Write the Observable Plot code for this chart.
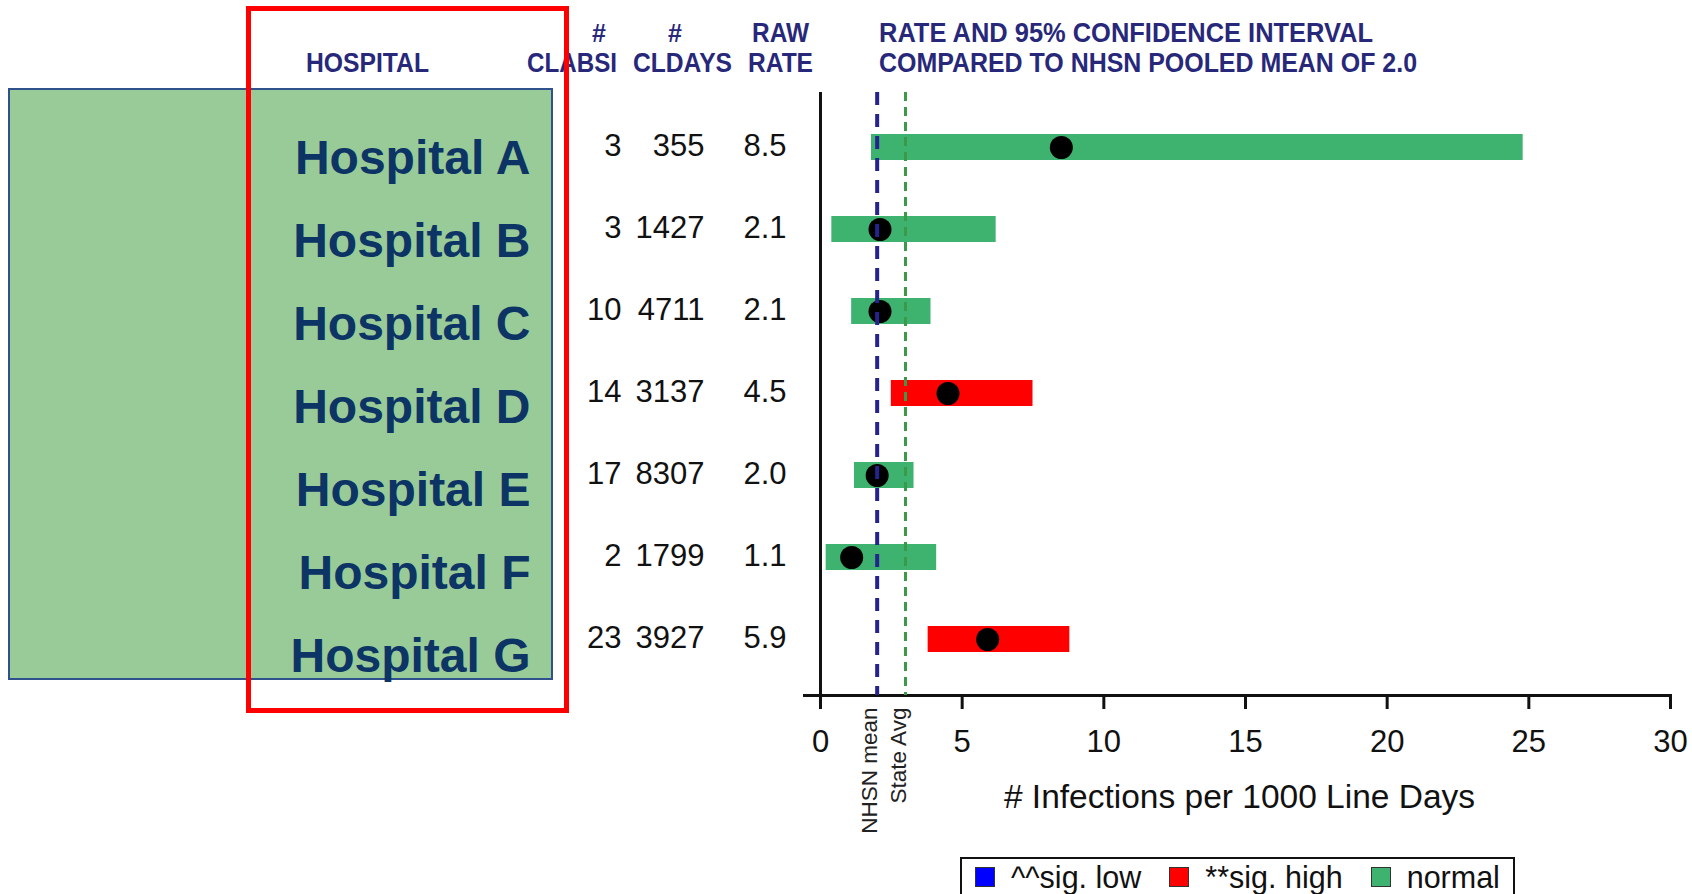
<!DOCTYPE html>
<html>
<head>
<meta charset="utf-8">
<script src="https://cdn.jsdelivr.net/npm/d3@7"></script>
<script src="https://cdn.jsdelivr.net/npm/@observablehq/plot@0.6"></script>
<style>
  html, body { margin: 0; padding: 0; background: #fff; overflow: hidden; }
  #wrap { position: relative; width: 1692px; height: 894px; font-family: "Liberation Sans", Arial, sans-serif; }
  #wrap > * { position: absolute; left: 0; top: 0; }
  #greenbox { left: 8px; top: 88px; width: 541px; height: 588px; background: #99cb98; border: 2px solid #2f528f; }
  #redbox { left: 246px; top: 6px; width: 313px; height: 697px; border: 5px solid #ff0000; pointer-events: none; }
  #legend { left: 960px; top: 857px; width: 555px; height: 50px; border: 2.5px solid #111; box-sizing: border-box;
            display: flex; align-items: flex-start; padding: 7px 0 0 13px; font-size: 30.5px; color: #111; }
  #legend .item { display: flex; align-items: center; margin-right: 28px; height: 22px; }
  #legend .sw { width: 20px; height: 20px; border: 1px solid #333; margin-right: 16px; box-sizing: border-box; }
  #legend .lab { line-height: 22px; white-space: nowrap; }
</style>
</head>
<body>
<div id="wrap">
  <div id="greenbox"></div>
</div>
<script>
// ---- data ----
const hospitals = ["Hospital A", "Hospital B", "Hospital C", "Hospital D", "Hospital E", "Hospital F", "Hospital G"];
const clabsi = [3, 3, 10, 14, 17, 2, 23];
const cldays = [355, 1427, 4711, 3137, 8307, 1799, 3927];
const rawRate = [8.5, 2.1, 2.1, 4.5, 2.0, 1.1, 5.9];
const ciLow = [1.8, 0.4, 1.1, 2.5, 1.2, 0.2, 3.8];
const ciHigh = [24.8, 6.2, 3.9, 7.5, 3.3, 4.1, 8.8];
const status = ["normal", "normal", "normal", "high", "normal", "normal", "high"];
const nhsnMean = 2.0;
const stateAvg = 3.0;
const refLabels = ["NHSN mean", "State Avg"];
const xTicks = [0, 5, 10, 15, 20, 25, 30];
const xLabel = "# Infections per 1000 Line Days";
const statusKeys = ["low", "high", "normal"];
const statusNames = ["^^sig. low", "**sig. high", "normal"];
const statusColors = ["#0000ff", "#ff0000", "#3eb370"];
const headerCols = ["HOSPITAL", "CLABSI", "CLDAYS", "RATE"];
const headerTops = ["#", "#", "RAW"];
const headerRight = ["RATE AND 95% CONFIDENCE INTERVAL", "COMPARED TO NHSN POOLED MEAN OF 2.0"];

const rows = hospitals.map((h, i) => ({
  hospital: h, clabsi: clabsi[i], cldays: cldays[i], rate: rawRate[i],
  lo: ciLow[i], hi: ciHigh[i], status: status[i]
}));

const wrap = document.getElementById("wrap");
const FONT = "Liberation Sans, Arial, sans-serif";

// ---- hospital labels in the pasted green box ----
const labelPlot = Plot.plot({
  width: 600, height: 720, margin: 0,
  style: {background: "transparent", overflow: "visible", fontFamily: FONT},
  x: {domain: [0, 1], axis: null},
  y: {type: "point", domain: hospitals, range: [155, 658], padding: 0, axis: null},
  marks: [
    Plot.text(hospitals, {y: d => d, frameAnchor: "right", dx: -70, textAnchor: "end",
      fontSize: 48, fontWeight: "bold", fill: "#0c3464", fontFamily: FONT})
  ]
});
wrap.appendChild(labelPlot);

// ---- main chart ----
const chart = Plot.plot({
  width: 1692, height: 894,
  marginLeft: 804, marginRight: 22, marginTop: 92, marginBottom: 199,
  style: {background: "transparent", overflow: "visible", fontFamily: FONT, color: "#111"},
  x: {domain: [0, 30], insetLeft: 16, axis: null},
  y: {type: "band", domain: hospitals, paddingInner: 0.68, paddingOuter: 0.5, axis: null},
  color: {domain: statusKeys, range: statusColors},
  marks: [
    Plot.frame({anchor: "bottom", stroke: "#111", strokeWidth: 3}),
    Plot.ruleX([0], {stroke: "#111", strokeWidth: 3}),
    Plot.barX(rows, {x1: "lo", x2: "hi", y: "hospital", fill: "status"}),
    Plot.dot(rows, {x: "rate", y: "hospital", r: 11.5, fill: "#000", stroke: "none"}),
    Plot.ruleX([nhsnMean], {stroke: "#24248c", strokeWidth: 4, strokeDasharray: "13,9"}),
    Plot.ruleX([stateAvg], {stroke: "#3a9a48", strokeWidth: 3, strokeDasharray: "9,6"}),
    Plot.axisX({ticks: xTicks, tickSize: 14, tickPadding: 20, fontSize: 31, strokeWidth: 3, stroke: "#111", label: null, tickFormat: d => String(d)}),
    Plot.text([nhsnMean, stateAvg], {x: d => d, text: (d, i) => refLabels[i], frameAnchor: "bottom", dy: 12,
      rotate: -90, textAnchor: "end", fontSize: 22.5, fill: "#222"}),
    Plot.text([xLabel], {frameAnchor: "bottom", dx: 2, dy: 112, fontSize: 33.5, fill: "#111", text: d => d}),
    Plot.text(rows, {y: "hospital", text: d => String(d.clabsi), frameAnchor: "left", dx: -183, dy: -1, textAnchor: "end", fontSize: 31, fill: "#111"}),
    Plot.text(rows, {y: "hospital", text: d => String(d.cldays), frameAnchor: "left", dx: -100, dy: -1, textAnchor: "end", fontSize: 31, fill: "#111"}),
    Plot.text(rows, {y: "hospital", text: d => d.rate.toFixed(1), frameAnchor: "left", dx: -18, dy: -1, textAnchor: "end", fontSize: 31, fill: "#111"})
  ]
});
wrap.appendChild(chart);

// ---- column headers (layout overlay) ----
const hdr = d3.create("svg").attr("width", 1692).attr("height", 100)
  .style("position", "absolute").style("left", "0px").style("top", "0px")
  .attr("font-family", FONT).attr("font-weight", "bold").attr("font-size", 27).attr("fill", "#28287a");
const hdrSpecs = [
  {t: headerCols[0], x: 306, y: 72, w: 123},
  {t: headerCols[1], x: 527, y: 72, w: 90},
  {t: headerCols[2], x: 633, y: 72, w: 99},
  {t: headerCols[3], x: 748, y: 72, w: 65},
  {t: headerTops[2], x: 752, y: 42, w: 57},
  {t: headerRight[0], x: 879, y: 42, w: 494},
  {t: headerRight[1], x: 879, y: 72, w: 538}
];
hdr.selectAll("text.h").data(hdrSpecs).join("text").attr("class", "h")
  .attr("x", d => d.x).attr("y", d => d.y).attr("textLength", d => d.w)
  .attr("lengthAdjust", "spacingAndGlyphs").text(d => d.t);
hdr.selectAll("text.p").data([599, 675]).join("text").attr("class", "p")
  .attr("x", d => d).attr("y", 42).attr("text-anchor", "middle").attr("font-size", 25).text((d, i) => headerTops[i]);
wrap.appendChild(hdr.node());

// ---- legend ----
const legend = document.createElement("div");
legend.id = "legend";
statusKeys.forEach((k, i) => {
  const it = document.createElement("div"); it.className = "item";
  const sw = document.createElement("div"); sw.className = "sw"; sw.style.background = statusColors[i];
  const lb = document.createElement("div"); lb.className = "lab"; lb.textContent = statusNames[i];
  it.appendChild(sw); it.appendChild(lb); legend.appendChild(it);
});
wrap.appendChild(legend);

// ---- red highlight rectangle on top ----
const red = document.createElement("div");
red.id = "redbox";
wrap.appendChild(red);
</script>
</body>
</html>
